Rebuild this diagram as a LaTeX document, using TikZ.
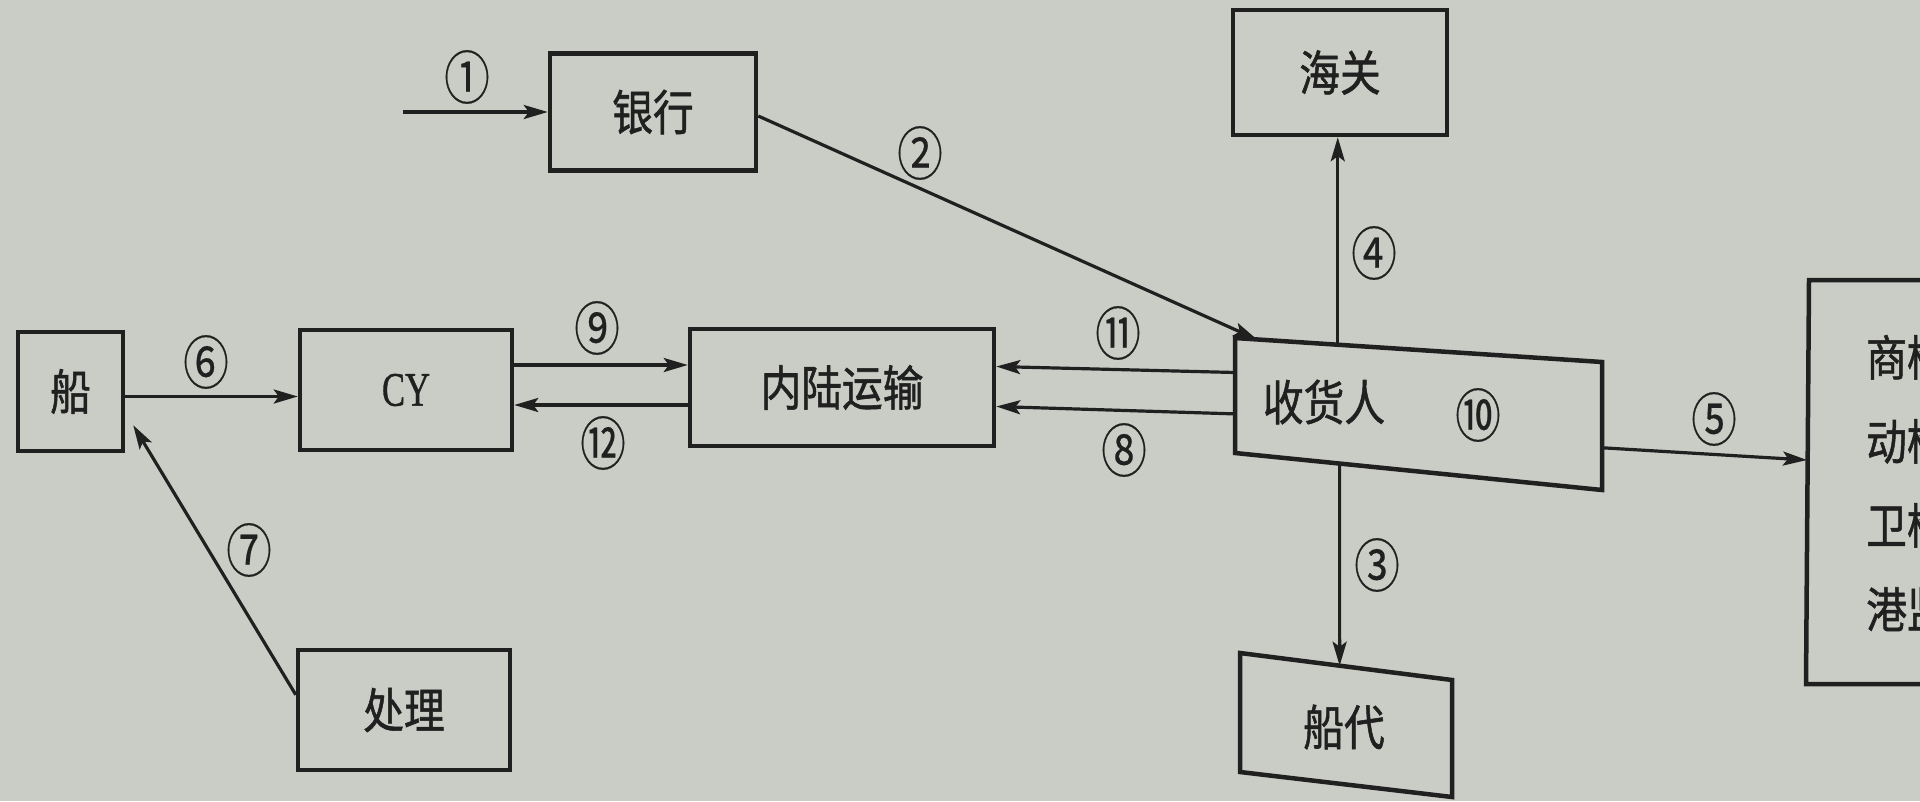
\documentclass[tikz,border=0pt]{standalone}
\usepackage{fontspec}
\newfontfamily\cjk[FakeBold=1.2]{Noto Sans CJK SC}
\newfontfamily\numf[FakeBold=0.4]{Noto Sans CJK SC}
\newfontfamily\latf[FakeBold=1.0]{Liberation Serif}
\usetikzlibrary{arrows.meta,calc}
\definecolor{bg}{RGB}{202,205,197}
\definecolor{ink}{RGB}{32,32,32}
\newcommand{\tall}[1]{\scalebox{0.97}[1.15]{#1}}
\newcommand{\talln}[1]{\scalebox{0.95}[1.2]{#1}}
\tikzset{
  box/.style={draw=ink, line width=4.5pt, inner sep=0pt, font=\cjk\fontsize{42}{50}\selectfont, text=ink},
  boxline/.style={draw=ink, line width=4.5pt, line join=miter},
  lbl/.style={font=\cjk\fontsize{42}{50}\selectfont, text=ink, inner sep=0pt},
  num/.style={font=\numf\fontsize{48}{50}\selectfont, text=ink, inner sep=0pt},
  arr/.style={draw=ink, line width=3.2pt, -{Stealth[length=24pt,width=14pt,inset=5pt]}}
}
\begin{document}
\begin{tikzpicture}[x=1pt,y=-1pt]
\fill[bg] (0,0) rectangle (1920,801);
\useasboundingbox (0,0) rectangle (1920,801);

% rectangular boxes
\node[box, minimum width=206pt, minimum height=117pt] (bank) at (653,112) {\tall{银行}};
\node[box, minimum width=214pt, minimum height=125pt] (customs) at (1340,72.5) {\tall{海关}};
\node[box, minimum width=105pt, minimum height=119pt] (ship) at (70.5,391.5) {\tall{船}};
\node[box, minimum width=212pt, minimum height=120pt, font=\latf\fontsize{48}{50}\selectfont] (cy) at (406,390) {\scalebox{0.72}[1]{CY}};
\node[box, minimum width=304pt, minimum height=117pt] (inland) at (842,387.5) {\tall{内陆运输}};
\node[box, minimum width=212pt, minimum height=120pt] (proc) at (404,710) {\tall{处理}};

% receiver box (skewed in the photo)
\coordinate (r1) at (1235,338);
\coordinate (r2) at (1602,362);
\coordinate (r3) at (1602,490);
\coordinate (r4) at (1235,453);
\draw[boxline] (r1)--(r2)--(r3)--(r4)--cycle;
\node[lbl] (recv) at (1324,402) {\tall{收货人}};
\node[num] (n10) at (1478,415) {\talln{⑩}};

% shipping agent box
\coordinate (c1) at (1240,653);
\coordinate (c2) at (1452,680);
\coordinate (c3) at (1452,797);
\coordinate (c4) at (1240,772);
\draw[boxline] (c1)--(c2)--(c3)--(c4)--cycle;
\node[lbl] (agent) at (1344,727) {\tall{船代}};

% right box (cut off by the picture edge)
\coordinate (b1) at (1940,280);
\coordinate (b2) at (1809,280);
\coordinate (b3) at (1806,684);
\coordinate (b4) at (1940,684);
\draw[boxline] (b1)--(b2)--(b3)--(b4);
\node[lbl, anchor=west, align=left, font=\cjk\fontsize{42}{84}\selectfont] (insp) at (1866,483) {\tall{商检}\\\tall{动检}\\\tall{卫检}\\\tall{港监}};

% connectors
\coordinate (s1) at (403,112);
\draw[arr] (s1) -- (bank.west);
\draw[arr] ($(bank.east)+(0,4)$) -- ($(r1)!0.06!(r2)$);
\coordinate (p4) at ($(r1)!0.28!(r2)$);
\draw[arr] (p4) -- (p4 |- customs.south);
\draw[arr] ($(r4)!0.285!(r3)$) -- ($(c1)!0.47!(c2)$);
\coordinate (rb) at (1807,460);
\draw[arr] ($(r2)!0.67!(r3)$) -- (rb);
\coordinate (a6) at ($(ship.east)+(0,5)$);
\draw[arr] (a6) -- (a6 -| cy.west);
\coordinate (a9) at ($(cy.east)+(0,-25)$);
\draw[arr] (a9) -- (a9 -| inland.west);
\coordinate (a12) at ($(inland.west)+(0,17.5)$);
\draw[arr] (a12) -- (a12 -| cy.east);
\draw[arr] ($(r1)!0.3!(r4)$) -- ($(inland.east)+(0,-21)$);
\draw[arr] ($(r1)!0.66!(r4)$) -- ($(inland.east)+(0,19)$);
\draw[arr] ($(proc.north west)+(0,47)$) -- ($(ship.south east)+(8,-28)$);

% labels
\node[num] (l1) at (467,77) {\talln{①}};
\node[num] (l2) at (920,153) {\talln{②}};
\node[num] (l3) at (1377,565) {\talln{③}};
\node[num] (l4) at (1374,253) {\talln{④}};
\node[num] (l5) at (1714,419) {\talln{⑤}};
\node[num] (l6) at (206,362) {\talln{⑥}};
\node[num] (l7) at (249,550) {\talln{⑦}};
\node[num] (l8) at (1124,450) {\talln{⑧}};
\node[num] (l9) at (597,328) {\talln{⑨}};
\node[num] (l11) at (1118,333) {\talln{⑪}};
\node[num] (l12) at (603,443) {\talln{⑫}};
\end{tikzpicture}
\end{document}
